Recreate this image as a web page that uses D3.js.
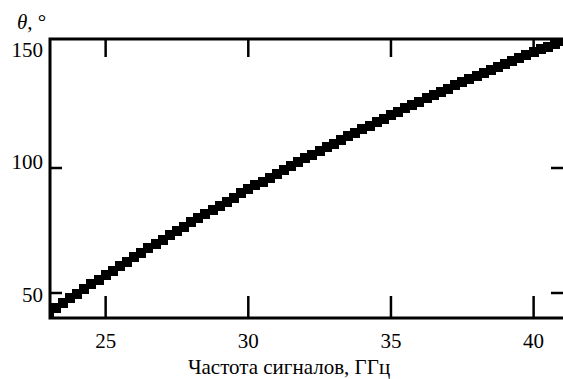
<!DOCTYPE html>
<html>
<head>
<meta charset="utf-8">
<script src="https://cdn.jsdelivr.net/npm/d3@7"></script>
<style>
  body { margin: 0; background: #fff; }
  svg { display: block; }
</style>
</head>
<body>
<div id="chart"></div>
<script>
// частота, ГГц (шаг 0.25)
let freq = [23, 23.25, 23.5, 23.75, 24, 24.25, 24.5, 24.75, 25, 25.25, 25.5, 25.75,
  26, 26.25, 26.5, 26.75, 27, 27.25, 27.5, 27.75, 28, 28.25, 28.5, 28.75,
  29, 29.25, 29.5, 29.75, 30, 30.25, 30.5, 30.75, 31, 31.25, 31.5, 31.75,
  32, 32.25, 32.5, 32.75, 33, 33.25, 33.5, 33.75, 34, 34.25, 34.5, 34.75,
  35, 35.25, 35.5, 35.75, 36, 36.25, 36.5, 36.75, 37, 37.25, 37.5, 37.75,
  38, 38.25, 38.5, 38.75, 39, 39.25, 39.5, 39.75, 40, 40.25, 40.5, 40.75, 41];

// угол theta, градусы
let theta = [42.2, 44.1, 46.0, 47.9, 49.8, 51.7, 53.5, 55.4, 57.2, 59.0, 60.8, 62.6,
  64.4, 66.2, 68.0, 69.7, 71.4, 73.2, 74.9, 76.6, 78.3, 80.0, 81.7, 83.3,
  85.0, 86.6, 88.2, 89.9, 91.5, 93.1, 94.6, 96.2, 97.8, 99.3, 100.8, 102.4,
  103.9, 105.4, 106.9, 108.4, 109.8, 111.3, 112.7, 114.2, 115.6, 117.0, 118.4, 119.8,
  121.2, 122.5, 123.9, 125.2, 126.6, 127.9, 129.2, 130.5, 131.8, 133.1, 134.3, 135.6,
  136.8, 138.1, 139.3, 140.5, 141.7, 142.9, 144.0, 145.2, 146.3, 147.5, 148.6, 149.7, 150.8];

let xTicks = [25, 30, 35, 40];
let yTicks = [50, 100];
let yLabels = [50, 100, 150];

let w = 563;
let h = 379;
let pLeft = 50, pRight = 565, pTop = 39, pBottom = 318;
let serif = "Liberation Serif, DejaVu Serif, Times, serif";

let x = d3.scaleLinear().domain([23.05, 41.1]).range([pLeft, pRight]);
let y = d3.scaleLinear().domain([40, 151.6]).range([pBottom, pTop]);

let svg = d3.select("#chart")
    .append("svg")
    .attr("width", w)
    .attr("height", h);

svg.append("defs").append("clipPath")
    .attr("id", "clip")
    .append("rect")
    .attr("x", pLeft)
    .attr("y", pTop)
    .attr("width", pRight - pLeft)
    .attr("height", pBottom - pTop);

// маркеры
let size = 10;
svg.append("g")
    .attr("clip-path", "url(#clip)")
    .attr("shape-rendering", "crispEdges")
    .selectAll("rect")
    .data(freq)
    .enter()
    .append("rect")
    .attr("x", function(d) { return x(d) - size / 2; })
    .attr("y", function(d, i) { return y(theta[i]) - size / 2; })
    .attr("width", size)
    .attr("height", size)
    .attr("fill", "#000");

// рамка
svg.append("rect")
    .attr("x", pLeft)
    .attr("y", pTop)
    .attr("width", pRight - pLeft)
    .attr("height", pBottom - pTop)
    .attr("fill", "none")
    .attr("stroke", "#000")
    .attr("stroke-width", 3);

// деления
let tk = svg.append("g").attr("stroke", "#000").attr("stroke-width", 2.5);
xTicks.forEach(function(d) {
    tk.append("line").attr("x1", x(d)).attr("x2", x(d)).attr("y1", pBottom).attr("y2", pBottom - 22);
    tk.append("line").attr("x1", x(d)).attr("x2", x(d)).attr("y1", pTop).attr("y2", pTop + 18);
});
yTicks.forEach(function(d) {
    tk.append("line").attr("x1", pLeft).attr("x2", pLeft + 12).attr("y1", y(d)).attr("y2", y(d));
    tk.append("line").attr("x1", pRight).attr("x2", pRight - 14).attr("y1", y(d)).attr("y2", y(d));
});

svg.selectAll(".xl")
    .data(xTicks)
    .enter()
    .append("text")
    .attr("class", "xl")
    .attr("x", function(d) { return x(d); })
    .attr("y", 348)
    .attr("text-anchor", "middle")
    .style("font-family", serif)
    .attr("font-size", "21px")
    .text(function(d) { return d; });

let yShift = {50: 9, 100: 1, 150: 14};
svg.selectAll(".yl")
    .data(yLabels)
    .enter()
    .append("text")
    .attr("class", "yl")
    .attr("x", 43)
    .attr("y", function(d) { return y(d) + yShift[d]; })
    .attr("text-anchor", "end")
    .style("font-family", serif)
    .attr("font-size", "21px")
    .text(function(d) { return d; });

svg.append("text")
    .attr("x", 289)
    .attr("y", 374)
    .attr("text-anchor", "middle")
    .style("font-family", serif)
    .attr("font-size", "21px")
    .text("Частота сигналов, ГГц");

let t = svg.append("text")
    .attr("x", 17)
    .attr("y", 29)
    .style("font-family", serif)
    .attr("font-size", "21px");
t.append("tspan").attr("font-style", "italic").text("θ");
t.append("tspan").text(", °");
</script>
</body>
</html>
